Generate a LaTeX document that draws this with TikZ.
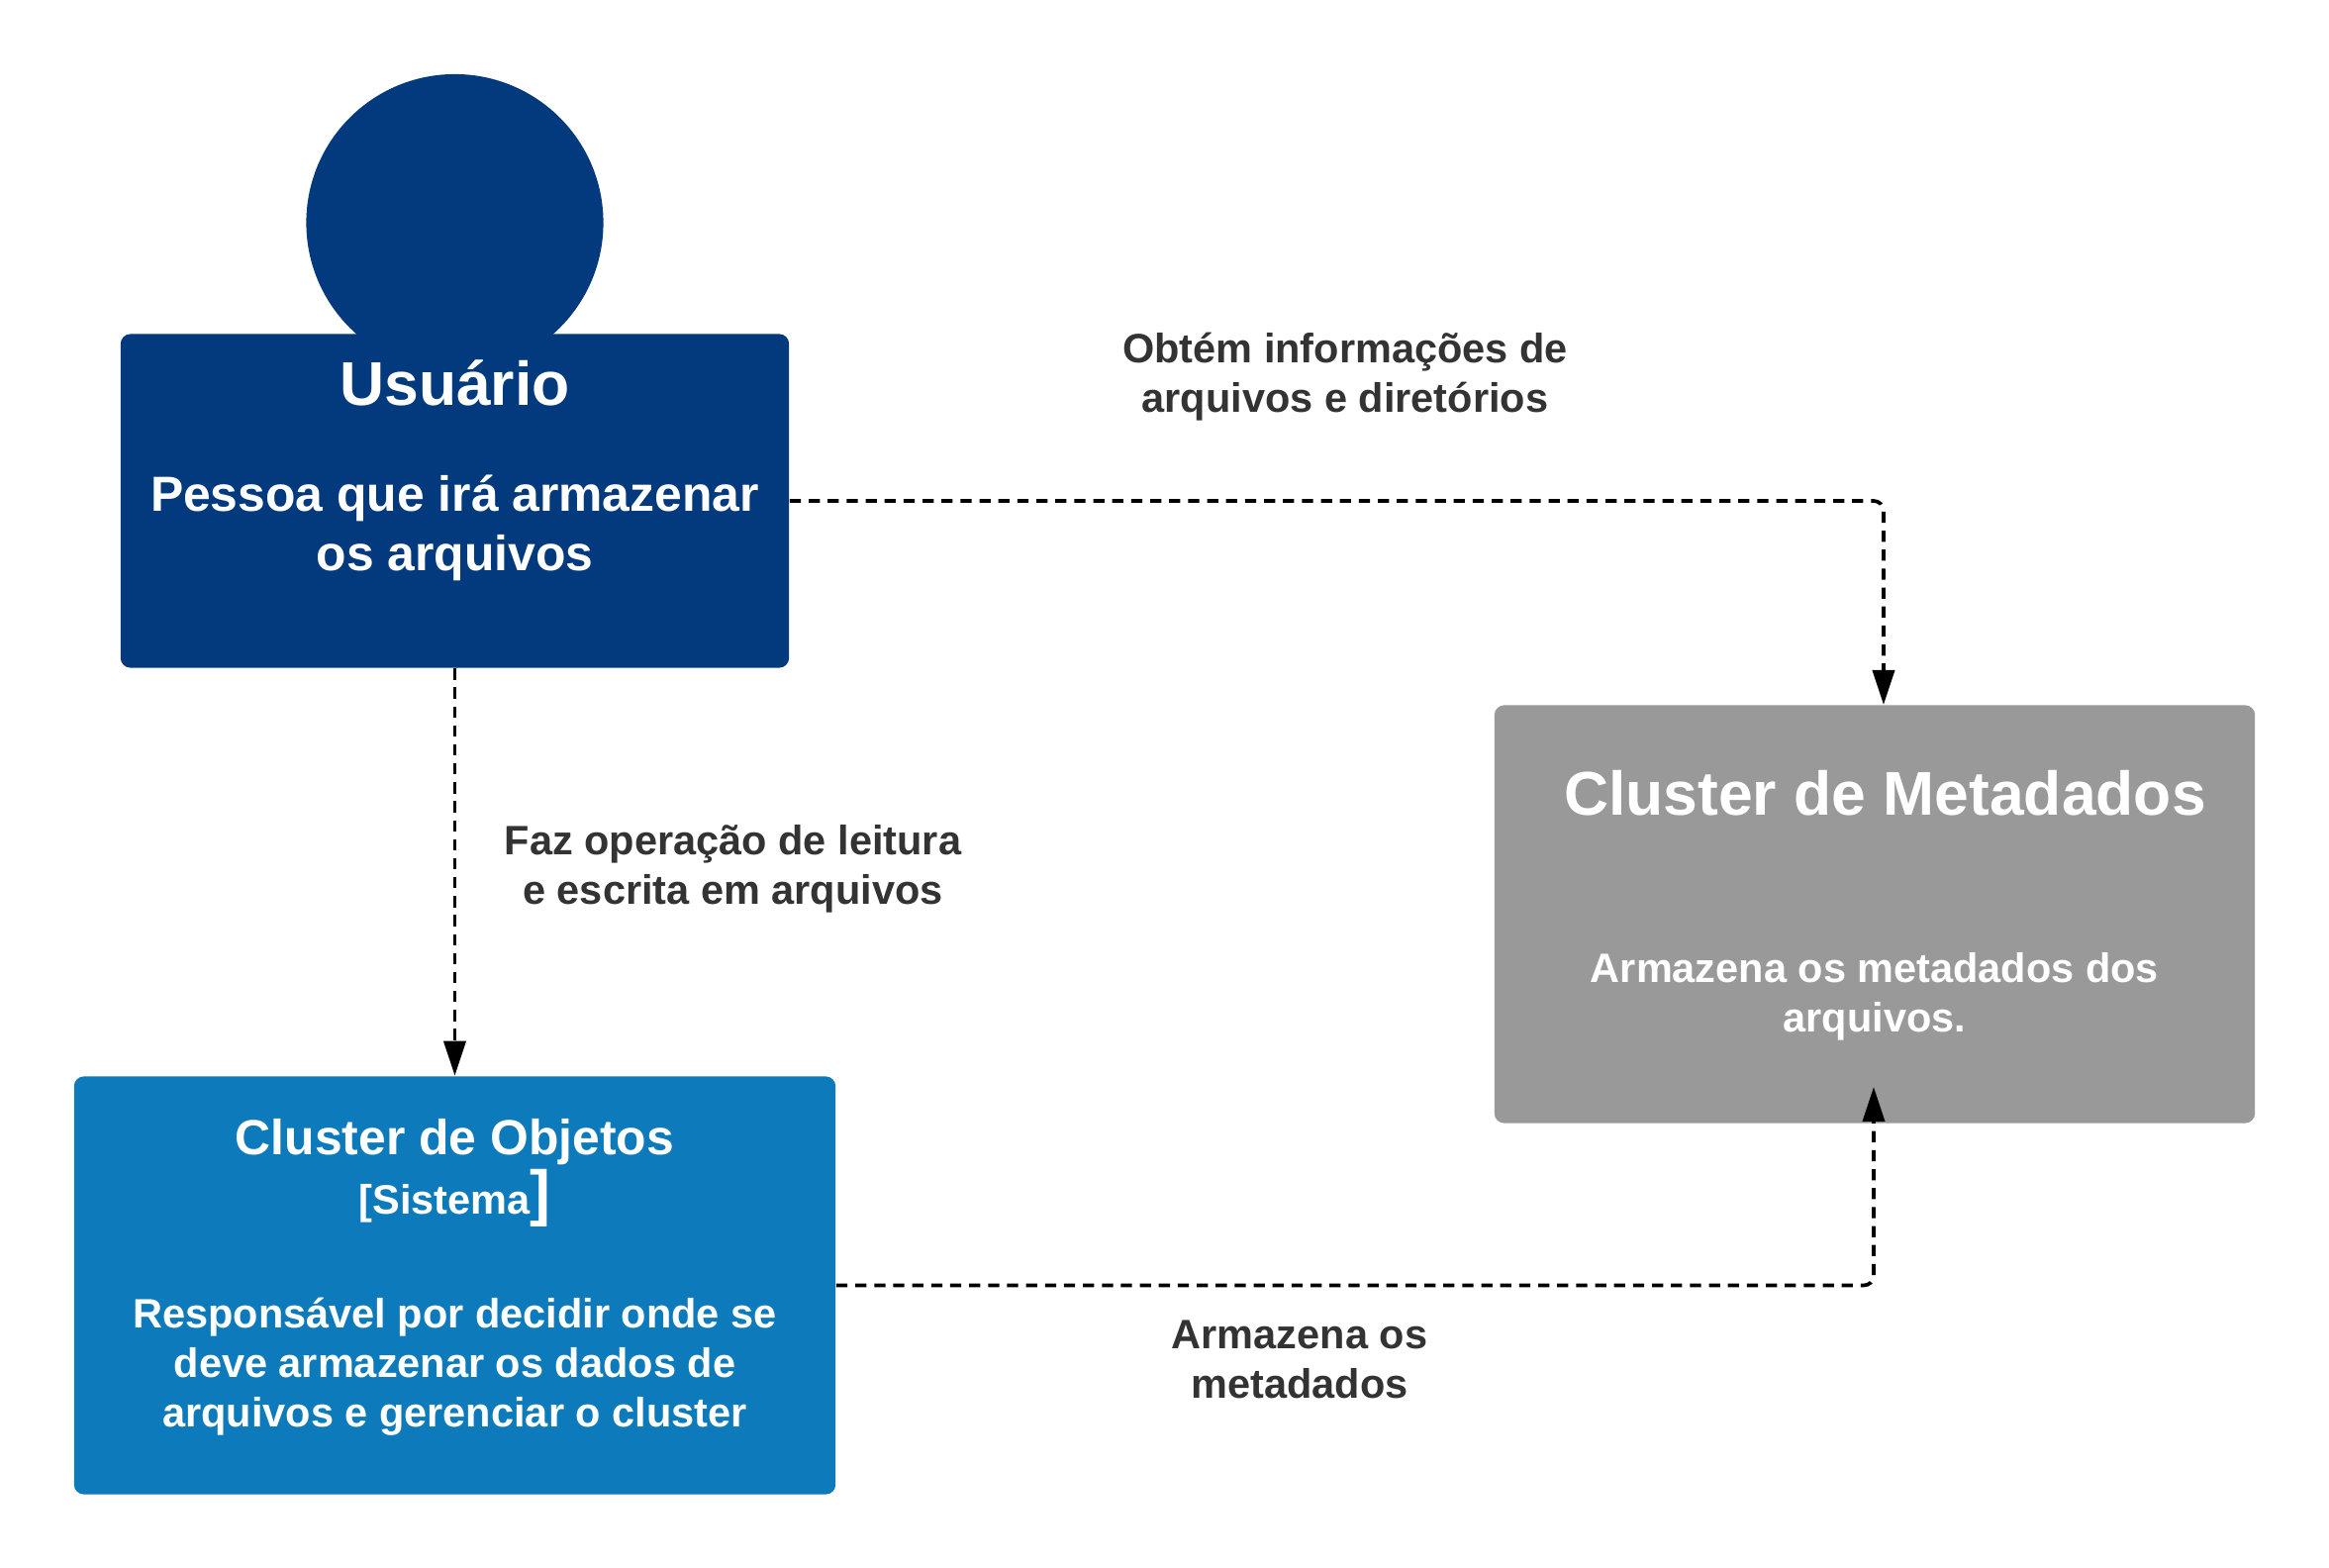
\documentclass[tikz,border=0pt]{standalone}
\usepackage{fontspec}
\setmainfont{Liberation Sans}
\usetikzlibrary{arrows.meta, positioning}
\definecolor{c4navy}{RGB}{3, 58, 126}
\definecolor{c4blue}{RGB}{13, 123, 187}
\definecolor{c4gray}{RGB}{153, 153, 153}
\definecolor{c4text}{RGB}{51, 51, 51}
\newcommand{\bigtxt}{\fontsize{17.75}{21}\selectfont}
\newcommand{\midtxt}{\fontsize{14.17}{17.07}\selectfont}
\newcommand{\smalltxt}{\fontsize{11.8}{14.22}\selectfont}

\begin{document}
\begin{tikzpicture}[x=0.01cm, y=-0.01cm,
  box/.style={rectangle, rounded corners=0.1cm, text=white, align=center,
              font=\bfseries\smalltxt, inner sep=0pt},
  lbl/.style={align=center, text=c4text, inner sep=0pt, font=\bfseries\smalltxt},
  rel/.style={-{Stealth[inset=0pt, length=0.35cm, width=0.22cm]}, black,
              line width=1.05pt, dash pattern=on 3.2pt off 2.25pt,
              rounded corners=0.1cm}]
  \useasboundingbox (0,0) rectangle (2353,1584);

  % Person
  \node[circle, fill=c4navy, minimum size=3cm, inner sep=0pt] (head) at (459.5,225) {};
  \node[box, fill=c4navy, minimum width=6.75cm, minimum height=3.37cm,
        font=\bfseries\midtxt] (user) at (459.5,506)
    {\bigtxt Usuário\\[0.47cm]
     Pessoa que irá armazenar\\os arquivos\\[0.11cm]\mbox{}};

  % Systems
  \node[box, fill=c4blue, minimum width=7.69cm, minimum height=4.22cm] (objects) at (459.5,1298.5)
    {\midtxt Cluster de Objetos\\[0.015cm]
     [Sistema{\bigtxt]}\\[0.65cm]
     Responsável por decidir onde se\\deve armazenar os dados de\\arquivos e gerenciar o cluster\\[-0.245cm]\mbox{}};
  \node[box, fill=c4gray, minimum width=7.68cm, minimum height=4.22cm] (meta) at (1894,923.5)
    {\hspace{0.21cm}\bigtxt Cluster de Metadados\\[1.19cm]
     Armazena os metadados dos\\arquivos.\\[-0.23cm]\mbox{}};

  % Free ends of the connectors
  \coordinate (metaTop) at (1903,712);
  \coordinate (metaIn) at (1893,1098);

  % Connectors
  \draw[rel] (user.east) -| (metaTop);
  \draw[rel] (user.south) -- (objects.north);
  \draw[rel] (objects.east) -| (metaIn);

  % Labels
  \node[lbl] (readInfo) at (1359,380.5) {Obtém informações de\\arquivos e diretórios};
  \node[lbl] (readWrite) at (740.5,878) {Faz operação de leitura\\e escrita em arquivos};
  \node[lbl] (storeMeta) at (1313,1373) {Armazena os\\metadados};
\end{tikzpicture}
\end{document}
